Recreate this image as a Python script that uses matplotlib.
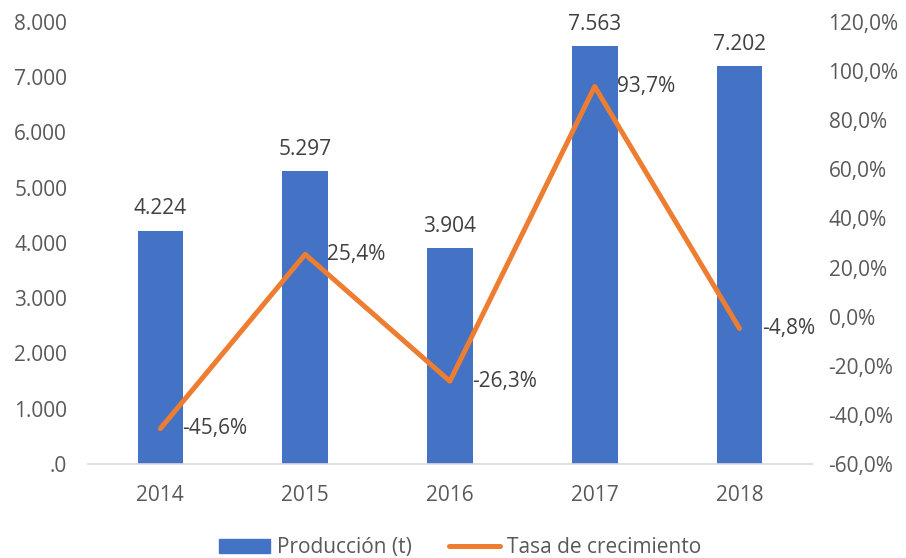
import matplotlib
matplotlib.use("Agg")
import matplotlib.pyplot as plt
from matplotlib.lines import Line2D
from matplotlib.patches import Patch

years = ["2014", "2015", "2016", "2017", "2018"]
produccion = [4224, 5297, 3904, 7563, 7202]
tasa = [-45.6, 25.4, -26.3, 93.7, -4.8]
left_ticks = [0, 1000, 2000, 3000, 4000, 5000, 6000, 7000, 8000]
left_labels = [".0", "1.000", "2.000", "3.000", "4.000", "5.000", "6.000", "7.000", "8.000"]
right_ticks = [-60, -40, -20, 0, 20, 40, 60, 80, 100, 120]

plt.rcParams['font.family'] = ['Open Sans', 'DejaVu Sans']
FS = 15
GRAY = "#595959"
BLUE = "#4472C4"
ORANGE = "#ED7D31"

fig = plt.figure(figsize=(9.06, 5.58), dpi=100)
ax = fig.add_axes([0.0971, 0.1685, 0.799, 0.7921])
x = list(range(len(years)))
ax.bar(x, produccion, width=0.315, color=BLUE, zorder=2)
ax.set_xlim(-0.5, len(years) - 0.5)
ax.set_ylim(0, 8000)
ax.set_yticks(left_ticks)
ax.set_yticklabels(left_labels)
ax.set_xticks(x)
ax.set_xticklabels(years)
for s in ["top", "right", "left"]:
    ax.spines[s].set_visible(False)
ax.spines["bottom"].set_color("#D9D9D9")
ax.spines["bottom"].set_linewidth(1.2)
ax.tick_params(axis="both", length=0, colors=GRAY, labelsize=FS)
ax.tick_params(axis="y", pad=15)
ax.tick_params(axis="x", pad=15)
for xi, v in zip(x, produccion):
    ax.annotate(f"{v:,}".replace(",", "."), (xi, v), xytext=(0, 8), textcoords="offset points",
                ha="center", va="bottom", fontsize=FS, color="#404040")

ax2 = ax.twinx()
ax2.plot(x, tasa, color=ORANGE, lw=3.6, solid_capstyle="round", solid_joinstyle="round", zorder=3)
ax2.set_ylim(-60, 120)
ax2.set_yticks(right_ticks)
ax2.set_yticklabels([f"{t:.1f}%".replace(".", ",") for t in right_ticks])
for s in ["top", "right", "left", "bottom"]:
    ax2.spines[s].set_visible(False)
ax2.tick_params(axis="y", length=0, colors=GRAY, labelsize=FS, pad=12)
for xi, v in zip(x, tasa):
    ax2.annotate(f"{v:.1f}%".replace(".", ","), (xi, v), xytext=(16, 0), textcoords="offset points",
                 ha="left", va="center", fontsize=FS, color="#404040")

handles = [Patch(facecolor=BLUE, edgecolor=BLUE),
           Line2D([0], [0], color=ORANGE, lw=3.6, solid_capstyle="round")]
fig.legend(handles, ["Producción (t)", "Tasa de crecimiento"], loc="center",
           bbox_to_anchor=(0.508, 0.018), ncol=2, frameon=False, fontsize=FS,
           labelcolor=GRAY, handlelength=2.45, handletextpad=0.34, columnspacing=1.8)

fig.savefig("out.png", dpi=100)
